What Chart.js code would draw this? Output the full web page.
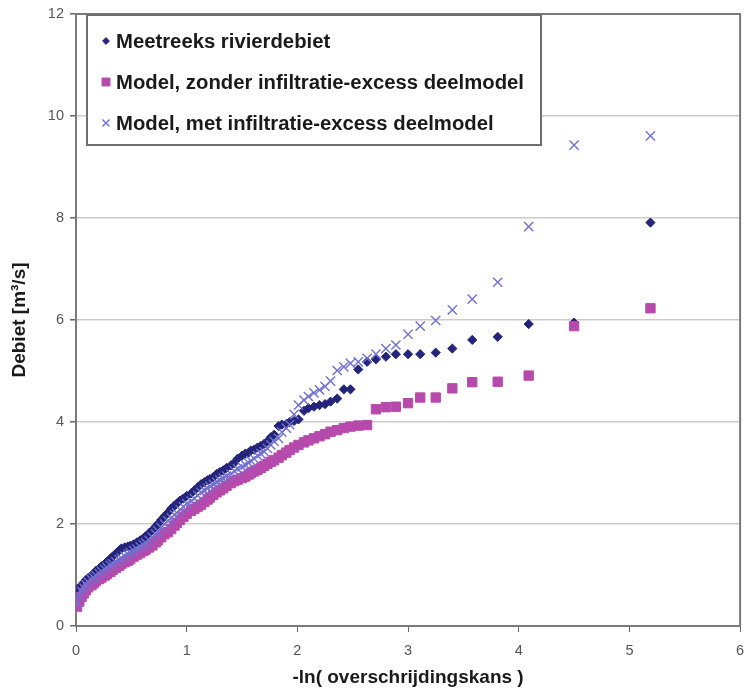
<!DOCTYPE html>
<html>
<head>
<meta charset="utf-8">
<script src="https://cdn.jsdelivr.net/npm/chart.js@4/dist/chart.umd.min.js"></script>
<style>
  body { margin: 0; background: #fff; }
  #chart { display: block; }
</style>
</head>
<body>
<canvas id="chart" width="748" height="697"></canvas>
<script>
// plotting positions, -ln(overschrijdingskans), shared by the three series
const xValues = [
  5.19, 4.50, 4.09, 3.81, 3.58, 3.40, 3.25, 3.11, 3.00, 2.89, 2.80, 2.71, 2.63, 2.55, 2.48, 2.42,
  2.36, 2.30, 2.25, 2.20, 2.15, 2.10, 2.06, 2.01, 1.97, 1.93, 1.90, 1.86, 1.83, 1.79, 1.76, 1.73,
  1.70, 1.67, 1.64, 1.61, 1.58, 1.56, 1.53, 1.50, 1.46, 1.43, 1.40, 1.36, 1.33, 1.30, 1.27, 1.24,
  1.21, 1.19, 1.16, 1.13, 1.10, 1.07, 1.04, 1.00, 0.97, 0.94, 0.91, 0.89, 0.86, 0.83, 0.80, 0.77,
  0.74, 0.72, 0.69, 0.66, 0.63, 0.61, 0.58, 0.55, 0.52, 0.49, 0.47, 0.44, 0.41, 0.39, 0.36, 0.33,
  0.31, 0.28, 0.26, 0.23, 0.21, 0.18, 0.16, 0.14, 0.11, 0.09, 0.07, 0.05, 0.03, 0.01
];

// Meetreeks rivierdebiet [m3/s]
const measured = [
  7.91, 5.95, 5.92, 5.67, 5.61, 5.44, 5.36, 5.33, 5.33, 5.33, 5.28, 5.23, 5.18, 5.03, 4.64, 4.64,
  4.46, 4.40, 4.35, 4.33, 4.30, 4.27, 4.22, 4.05, 4.02, 4.00, 3.96, 3.95, 3.92, 3.75, 3.70, 3.62,
  3.57, 3.53, 3.50, 3.46, 3.44, 3.40, 3.38, 3.34, 3.28, 3.20, 3.15, 3.10, 3.05, 3.02, 2.98, 2.92,
  2.88, 2.86, 2.82, 2.78, 2.72, 2.66, 2.60, 2.55, 2.50, 2.46, 2.40, 2.36, 2.30, 2.22, 2.15, 2.08,
  2.00, 1.95, 1.88, 1.82, 1.76, 1.72, 1.68, 1.64, 1.60, 1.57, 1.56, 1.54, 1.52, 1.48, 1.42, 1.36,
  1.32, 1.26, 1.22, 1.17, 1.13, 1.08, 1.03, 0.99, 0.94, 0.90, 0.85, 0.80, 0.75, 0.68
];

// Model, zonder infiltratie-excess deelmodel
const modelWithout = [
  6.23, 5.88, 4.91, 4.79, 4.78, 4.66, 4.48, 4.48, 4.37, 4.30, 4.29, 4.25, 3.94, 3.93, 3.91, 3.88,
  3.84, 3.81, 3.76, 3.72, 3.68, 3.64, 3.60, 3.55, 3.50, 3.45, 3.40, 3.35, 3.30, 3.25, 3.22, 3.18,
  3.14, 3.10, 3.06, 3.03, 3.00, 2.97, 2.93, 2.90, 2.87, 2.84, 2.80, 2.75, 2.70, 2.66, 2.62, 2.57,
  2.52, 2.48, 2.43, 2.38, 2.34, 2.30, 2.26, 2.20, 2.14, 2.08, 2.02, 1.97, 1.90, 1.84, 1.80, 1.74,
  1.68, 1.64, 1.58, 1.54, 1.50, 1.47, 1.43, 1.40, 1.36, 1.31, 1.28, 1.25, 1.22, 1.18, 1.14, 1.10,
  1.06, 1.02, 0.99, 0.95, 0.92, 0.88, 0.84, 0.80, 0.76, 0.70, 0.64, 0.57, 0.48, 0.38
];

// Model, met infiltratie-excess deelmodel
const modelWith = [
  9.61, 9.43, 7.83, 6.74, 6.41, 6.20, 5.99, 5.88, 5.72, 5.51, 5.44, 5.33, 5.25, 5.18, 5.15, 5.08,
  5.01, 4.80, 4.70, 4.63, 4.57, 4.50, 4.43, 4.33, 4.15, 3.95, 3.88, 3.80, 3.68, 3.62, 3.55, 3.48,
  3.42, 3.38, 3.34, 3.28, 3.24, 3.20, 3.16, 3.12, 3.08, 3.04, 2.98, 2.94, 2.90, 2.86, 2.82, 2.78,
  2.74, 2.70, 2.66, 2.62, 2.56, 2.50, 2.45, 2.40, 2.34, 2.28, 2.22, 2.18, 2.12, 2.06, 2.00, 1.93,
  1.86, 1.80, 1.74, 1.68, 1.63, 1.59, 1.55, 1.51, 1.48, 1.44, 1.41, 1.37, 1.33, 1.30, 1.26, 1.22,
  1.19, 1.15, 1.11, 1.07, 1.03, 0.99, 0.95, 0.91, 0.86, 0.81, 0.75, 0.68, 0.58, 0.45
];

const seriesNames = [
  'Meetreeks rivierdebiet',
  'Model, zonder infiltratie-excess deelmodel',
  'Model, met infiltratie-excess deelmodel'
];

const toPoints = ys => xValues.map((x, i) => ({ x: x, y: ys[i] }));

const FONT = '"Liberation Sans", Arial, sans-serif';

// legend box drawn inside the plot, like the Excel original
const boxLegend = {
  id: 'boxLegend',
  afterDatasetsDraw(chart) {
    const ctx = chart.ctx;
    const left = 87, top = 15, w = 454, h = 130;
    ctx.save();
    ctx.fillStyle = '#fff';
    ctx.fillRect(left, top, w, h);
    ctx.strokeStyle = '#6e6e6e';
    ctx.lineWidth = 2;
    ctx.strokeRect(left, top, w, h);

    ctx.font = 'bold 17px ' + FONT;
    const longest = ctx.measureText(seriesNames[1]).width;
    const size = 17 * 408 / longest;
    ctx.font = 'bold ' + size.toFixed(1) + 'px ' + FONT;
    ctx.textBaseline = 'middle';

    const rows = [41, 82, 123];
    chart.data.datasets.forEach((ds, i) => {
      const y = rows[i];
      const opts = {
        pointStyle: ds.pointStyle,
        radius: ds.legendRadius,
        borderWidth: ds.borderWidth
      };
      ctx.fillStyle = ds.backgroundColor;
      ctx.strokeStyle = ds.borderColor;
      ctx.lineWidth = ds.borderWidth;
      Chart.helpers.drawPoint(ctx, opts, 106, y);
      ctx.fillStyle = '#1a1a1a';
      ctx.fillText(ds.label, 116, y + 1);
    });
    ctx.restore();
  }
};

// grey frame around the plot area
const plotFrame = {
  id: 'plotFrame',
  beforeDatasetsDraw(chart) {
    const a = chart.chartArea;
    const ctx = chart.ctx;
    ctx.save();
    ctx.strokeStyle = '#7a7a7a';
    ctx.lineWidth = 2;
    ctx.strokeRect(a.left, a.top, a.right - a.left, a.bottom - a.top);
    ctx.restore();
  }
};

new Chart(document.getElementById('chart').getContext('2d'), {
  type: 'scatter',
  data: {
    datasets: [{
      label: seriesNames[0],
      data: toPoints(measured),
      pointStyle: 'rectRot',
      pointRadius: 4.6,
      legendRadius: 3.4,
      backgroundColor: 'rgb(36, 36, 122)',
      borderColor: 'rgb(36, 36, 122)',
      borderWidth: 1,
      order: 3
    }, {
      label: seriesNames[1],
      data: toPoints(modelWithout),
      pointStyle: 'rect',
      pointRadius: 6.6,
      legendRadius: 5.6,
      backgroundColor: 'rgb(182, 74, 172)',
      borderColor: 'rgb(182, 74, 172)',
      borderWidth: 1,
      order: 2
    }, {
      label: seriesNames[2],
      data: toPoints(modelWith),
      pointStyle: 'crossRot',
      pointRadius: 6.5,
      legendRadius: 5,
      backgroundColor: 'rgb(112, 112, 208)',
      borderColor: 'rgb(112, 112, 208)',
      borderWidth: 1.4,
      order: 1
    }]
  },
  options: {
    responsive: false,
    animation: false,
    layout: { padding: { top: 14, right: 6, left: 0, bottom: 0 } },
    plugins: {
      legend: { display: false },
      tooltip: { enabled: false }
    },
    scales: {
      x: {
        type: 'linear',
        min: 0,
        max: 6,
        ticks: { stepSize: 1, color: '#555', font: { family: FONT, size: 14.5 }, padding: 10 },
        grid: { drawOnChartArea: false, tickLength: 6, tickColor: '#666', color: '#666' },
        border: { color: '#6a6a6a', width: 2 },
        title: {
          display: true,
          text: '-ln( overschrijdingskans )',
          color: '#1a1a1a',
          font: { family: FONT, size: 19, weight: 'bold' },
          padding: { top: 4, bottom: 8 }
        },
        afterFit: s => {
          s.height = 71;
          s.paddingLeft = 0;
          s.paddingRight = 0;
        }
      },
      y: {
        min: 0,
        max: 12,
        ticks: { stepSize: 2, color: '#555', font: { family: FONT, size: 14.5 }, padding: 6 },
        grid: { color: '#cccccc', lineWidth: 1.5, tickLength: 6, tickColor: '#666' },
        border: { color: '#6a6a6a', width: 2 },
        title: {
          display: true,
          text: 'Debiet [m³/s]',
          color: '#1a1a1a',
          font: { family: FONT, size: 19, weight: 'bold' },
          padding: { top: 8, bottom: 4 }
        },
        afterFit: s => {
          s.width = 76;
          s.paddingTop = 0;
          s.paddingBottom = 0;
        }
      }
    }
  },
  plugins: [plotFrame, boxLegend]
});
</script>
</body>
</html>
